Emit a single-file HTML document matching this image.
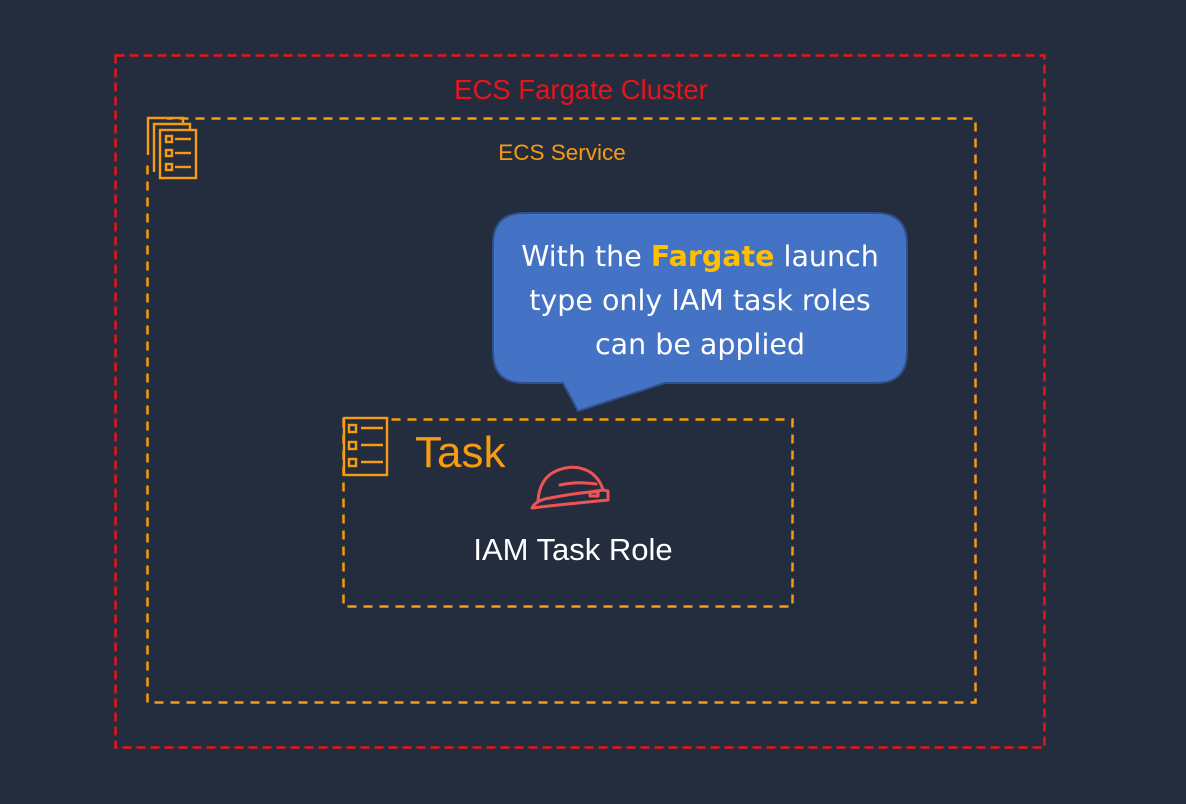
<!DOCTYPE html>
<html><head><style>
html,body{margin:0;padding:0;background:#232d3d;}
svg{display:block}
text{font-family:"Liberation Sans",sans-serif}
</style></head><body>
<svg width="1186" height="804" viewBox="0 0 1186 804" xmlns="http://www.w3.org/2000/svg">
<rect width="1186" height="804" fill="#232d3d"/>
<rect x="115.5" y="55.5" width="929" height="692" fill="none" stroke="#e8141b" stroke-width="2.5" stroke-dasharray="9,5"/>
<text x="581" y="99" font-size="27.5" fill="#e8141b" text-anchor="middle">ECS Fargate Cluster</text>
<rect x="147.5" y="118.5" width="828" height="584" fill="none" stroke="#f79c11" stroke-width="2.5" stroke-dasharray="9,7"/>
<text x="562" y="160" font-size="22.5" fill="#f79c11" text-anchor="middle">ECS Service</text>
<rect x="141" y="112" width="26" height="48" fill="#232d3d"/>
<g fill="none" stroke="#f79c11" stroke-width="2.4">
<path d="M148 155 V118 H183 V124"/>
<path d="M154 172 V124 H190 V130"/>
<rect x="160" y="130" width="36" height="48" fill="#232d3d"/>
<rect x="166" y="136" width="6" height="6"/><line x1="175" y1="139" x2="191" y2="139"/>
<rect x="166" y="150" width="6" height="6"/><line x1="175" y1="153" x2="191" y2="153"/>
<rect x="166" y="164" width="6" height="6"/><line x1="175" y1="167" x2="191" y2="167"/>
</g>
<rect x="343.5" y="419.5" width="449" height="187" fill="none" stroke="#f79c11" stroke-width="2.5" stroke-dasharray="9,7"/>
<g fill="none" stroke="#f79c11" stroke-width="2.4">
<rect x="344" y="418" width="43" height="57" fill="#232d3d"/>
<rect x="349" y="425" width="7" height="7"/><line x1="361" y1="428" x2="383" y2="428"/>
<rect x="349" y="442" width="7" height="7"/><line x1="361" y1="445" x2="383" y2="445"/>
<rect x="349" y="459" width="7" height="7"/><line x1="361" y1="462" x2="383" y2="462"/>
</g>
<text x="415" y="467" font-size="44" fill="#f79c11">Task</text>
<g fill="none" stroke="#f05356" stroke-width="3" stroke-linecap="round" stroke-linejoin="round">
<path d="M538 500 Q540 478 556 471 Q574 463 590 472 Q600 479 603 490"/>
<path d="M532 508 Q536 500 550 498 Q570 494 590 492 L603 490 L608 491 L608 500 Q588 502 568 504 Q548 506 532 508 Z"/>
<path d="M560 485 Q578 481 596 484"/>
<rect x="590" y="492" width="8" height="4"/>
</g>
<text x="573" y="560" font-size="31" fill="#ffffff" text-anchor="middle">IAM Task Role</text>
<path d="M525 213 H876 Q907 213 907 244 V352 Q907 383 876 383 H665 L578 411 L563 383 H524 Q493 383 493 352 V244 Q493 213 525 213 Z" fill="#4472c4" stroke="#2f528f" stroke-width="2"/>
<g font-family="'DejaVu Sans',sans-serif" font-size="28.5" fill="#ffffff" text-anchor="middle">
<text x="700" y="266" style="font-family:'DejaVu Sans',sans-serif">With the <tspan fill="#ffc000" font-weight="bold">Fargate</tspan> launch</text>
<text x="700" y="310" style="font-family:'DejaVu Sans',sans-serif">type only IAM task roles</text>
<text x="700" y="354" style="font-family:'DejaVu Sans',sans-serif">can be applied</text>
</g>
</svg>
</body></html>
